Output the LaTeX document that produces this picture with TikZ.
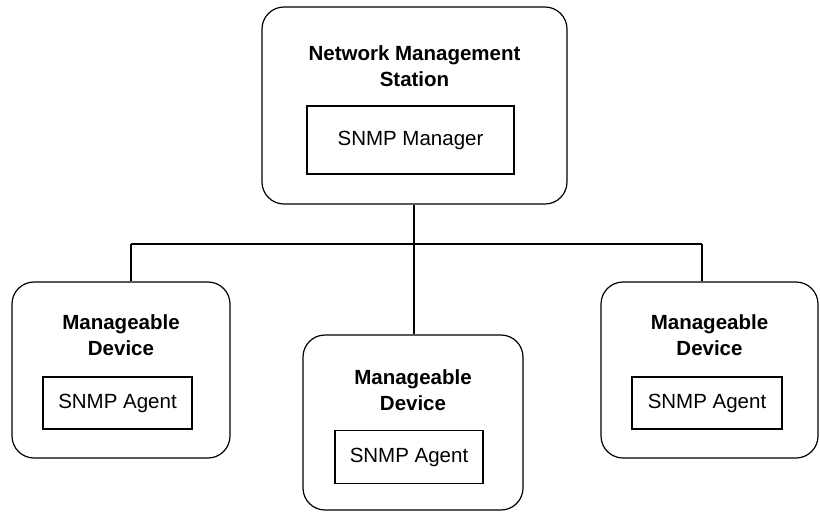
\documentclass[tikz,border=0pt]{standalone}
\usepackage{fontspec}
\setmainfont{Liberation Sans}
\usetikzlibrary{positioning}

\begin{document}
\begin{tikzpicture}[x=1pt,y=-1pt,
  device/.style={draw,rounded corners=22pt,line width=1.2pt},
  title/.style={font=\fontsize{20.5}{26}\selectfont\bfseries,align=center,inner sep=0pt},
  part/.style={draw,line width=1.1pt,font=\fontsize{20.5}{24}\selectfont},
  link/.style={line width=1.2pt}]
  \useasboundingbox (0,0) rectangle (820,512);

  % --- Outer boxes ---
  \node[device,minimum width=305pt,minimum height=197pt] (nms) at (414.5,105.5) {};
  \node[device,minimum width=218pt,minimum height=176pt] (devl) at (121,370) {};
  \node[device,minimum width=220pt,minimum height=175pt] (devc) at (413,422.5) {};
  \node[device,minimum width=217pt,minimum height=176pt] (devr) at (709.5,370) {};

  % --- Titles ---
  \node[title] (nmst) at (414.5,66) {Network Management\\Station};
  \node[title] (devlt) at (121,335.5) {Manageable\\Device};
  \node[title] (devct) at (413,390) {Manageable\\Device};
  \node[title] (devrt) at (709.5,335.5) {Manageable\\Device};

  % --- Inner boxes ---
  \node[part,minimum width=207pt,minimum height=68pt] (mgr) at (410.5,140) {SNMP Manager};
  \node[part,minimum width=149pt,minimum height=52pt] (agl) at (117.5,403) {SNMP Agent};
  \node[part,minimum width=148pt,minimum height=53pt] (agc) at (409,457) {SNMP Agent};
  \node[part,minimum width=150pt,minimum height=52pt] (agr) at (707,403) {SNMP Agent};

  % --- Connectors ---
  \coordinate (tapl) at (131,244);
  \coordinate (tapr) at (702,244);
  \coordinate (tapc) at (414,244);
  \draw[link] (tapl) -- (tapr);
  \draw[link] (tapc |- nms.south) -- (tapc |- devc.north);
  \draw[link] (tapl) -- (tapl |- devl.north);
  \draw[link] (tapr) -- (tapr |- devr.north);
\end{tikzpicture}
\end{document}
